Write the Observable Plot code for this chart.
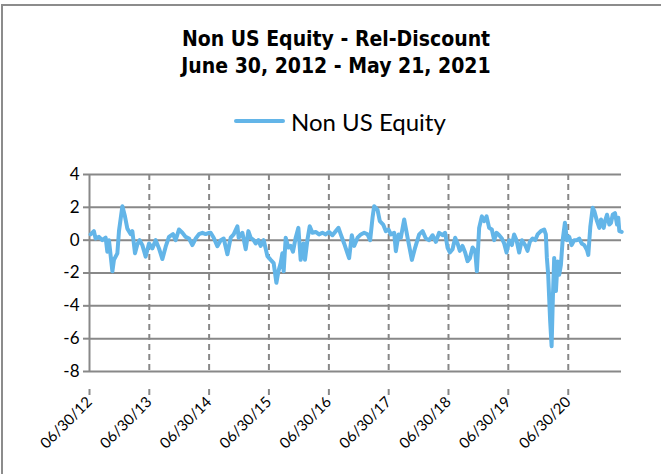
<!DOCTYPE html>
<html>
<head>
<meta charset="utf-8">
<script src="https://cdn.jsdelivr.net/npm/d3@7"></script>
<script src="https://cdn.jsdelivr.net/npm/@observablehq/plot@0.6"></script>
<style>
html, body { margin: 0; padding: 0; background: #fff; width: 661px; height: 474px; overflow: hidden; position: relative; }
#frame { position: absolute; left: 1px; top: 4px; width: 900px; height: 900px; border: 2px solid #8c8c8c; box-sizing: border-box; }
#title { position: absolute; left: 0; width: 672px; top: 26px; text-align: center;
  font-family: "DejaVu Sans Condensed", "DejaVu Sans", sans-serif; font-weight: bold; font-size: 21px; line-height: 27px; color: #000; }
#legend { position: absolute; left: 234px; top: 106px; height: 30px; display: flex; align-items: center;
  font-family: Lato, sans-serif; font-size: 24px; color: #000; }
#legend .swatch { width: 51px; height: 4px; border-radius: 2px; background: #63b5e8; margin-right: 6px; }
#chart { position: absolute; left: 0; top: 145px; }
</style>
</head>
<body>
<div id="frame"></div>
<div id="title">Non US Equity - Rel-Discount<br>June 30, 2012 - May 21, 2021</div>
<div id="legend"><div class="swatch"></div><span id="seriesName"></span></div>
<div id="chart"></div>
<script>
// Series name
const seriesName = "Non US Equity";

// Dates as decimal years
const years = [
  2012.513, 2012.568, 2012.596, 2012.652, 2012.708, 2012.764, 2012.792, 2012.819, 2012.876, 2012.902,
  2012.959, 2012.986, 2013.043, 2013.086, 2013.126, 2013.182, 2013.210, 2013.254, 2013.294, 2013.332,
  2013.377, 2013.432, 2013.488, 2013.544, 2013.600, 2013.655, 2013.712, 2013.767, 2013.822, 2013.889,
  2013.934, 2013.989, 2014.046, 2014.101, 2014.157, 2014.213, 2014.269, 2014.324, 2014.381, 2014.436,
  2014.491, 2014.519, 2014.570, 2014.631, 2014.687, 2014.737, 2014.799, 2014.854, 2014.904, 2014.966,
  2014.988, 2015.050, 2015.105, 2015.150, 2015.188, 2015.238, 2015.272, 2015.317, 2015.356, 2015.406,
  2015.468, 2015.523, 2015.573, 2015.618, 2015.652, 2015.690, 2015.718, 2015.740, 2015.774, 2015.819,
  2015.857, 2015.896, 2015.941, 2015.986, 2016.024, 2016.070, 2016.096, 2016.136, 2016.175, 2016.220,
  2016.275, 2016.330, 2016.387, 2016.442, 2016.498, 2016.554, 2016.610, 2016.655, 2016.693, 2016.749,
  2016.832, 2016.877, 2016.916, 2016.973, 2017.028, 2017.083, 2017.140, 2017.183, 2017.223, 2017.250,
  2017.307, 2017.345, 2017.401, 2017.446, 2017.491, 2017.529, 2017.585, 2017.613, 2017.658, 2017.697,
  2017.752, 2017.809, 2017.881, 2017.936, 2018.003, 2018.060, 2018.115, 2018.170, 2018.227, 2018.282,
  2018.337, 2018.394, 2018.437, 2018.477, 2018.516, 2018.561, 2018.605, 2018.645, 2018.683, 2018.728,
  2018.772, 2018.812, 2018.851, 2018.896, 2018.939, 2018.968, 2019.006, 2019.051, 2019.090, 2019.130,
  2019.173, 2019.218, 2019.257, 2019.297, 2019.341, 2019.386, 2019.424, 2019.464, 2019.508, 2019.553,
  2019.591, 2019.631, 2019.675, 2019.720, 2019.775, 2019.815, 2019.854, 2019.899, 2019.943, 2019.983,
  2020.038, 2020.093, 2020.121, 2020.138, 2020.160, 2020.193, 2020.217, 2020.238, 2020.260, 2020.289,
  2020.317, 2020.344, 2020.372, 2020.401, 2020.439, 2020.473, 2020.511, 2020.551, 2020.595, 2020.640,
  2020.678, 2020.718, 2020.762, 2020.807, 2020.829, 2020.862, 2020.902, 2020.929, 2020.974, 2021.013,
  2021.041, 2021.086, 2021.108, 2021.141, 2021.180, 2021.208, 2021.237, 2021.275, 2021.309, 2021.330,
  2021.347, 2021.387
];

// Rel-Discount values
const values = [
  0.35, 0.55, 0.10, 0.20, 0.00, 0.15, -0.70, 0.00, -1.90, -1.20,
  -0.80, 0.55, 2.07, 1.45, 0.70, 0.37, 0.55, -0.80, -0.25, 0.00,
  -0.30, -1.00, -0.20, -0.50, 0.00, -0.50, -1.15, -0.40, 0.20, 0.37,
  0.00, 0.65, 0.45, 0.20, 0.10, -0.30, 0.10, 0.37, 0.45, 0.37,
  0.45, 0.45, 0.15, -0.37, 0.00, 0.10, -0.86, 0.15, 0.35, 0.85,
  0.15, 0.45, -0.55, 0.55, 0.15, 0.00, -0.20, 0.00, -0.35, 0.00,
  -0.97, -1.20, -1.40, -2.60, -1.90, -1.40, -0.80, -1.90, 0.15, -0.45,
  -0.35, -0.70, 0.15, 0.75, -1.20, -0.20, -1.20, 0.00, 0.85, 0.45,
  0.50, 0.35, 0.45, 0.35, 0.50, 0.30, 0.55, 0.75, 0.35, -0.20,
  -1.10, 0.30, -0.35, 0.15, 0.35, 0.45, 0.35, 0.00, 1.36, 2.07,
  1.85, 1.16, 0.95, 0.55, 0.65, 0.35, 0.45, -0.67, 0.35, 0.15,
  1.26, 0.15, -1.20, -0.45, 0.35, 0.55, 0.10, 0.00, 0.30, -0.10,
  0.45, 0.30, 0.45, -0.45, -0.75, -0.55, 0.15, -0.20, -0.65, -0.35,
  -0.75, -1.28, -1.10, -0.45, -0.65, -1.90, 0.75, 1.45, 1.16, 1.45,
  0.75, 0.65, 0.00, 0.45, 0.30, 0.10, -0.20, -0.75, 0.00, -0.30,
  0.35, 0.00, -0.75, 0.00, -0.30, -0.65, -0.10, 0.10, 0.00, 0.35,
  0.55, 0.65, 0.35, -1.08, -2.10, -4.94, -6.46, -3.50, -1.08, -3.10,
  -1.30, -2.10, -1.50, 0.00, 1.06, 0.00, 0.20, -0.30, 0.00, 0.00,
  0.10, -0.20, -0.30, -0.60, -0.90, 0.80, 1.97, 1.77, 1.16, 0.75,
  1.26, 0.75, 1.16, 1.55, 0.95, 1.06, 1.55, 1.65, 0.95, 1.36,
  0.55, 0.50
];

// Axis ticks and domain
const xTickLabels = ["06/30/12", "06/30/13", "06/30/14", "06/30/15", "06/30/16", "06/30/17", "06/30/18", "06/30/19", "06/30/20"];
const xDomainLabels = ["06/30/12", "05/21/21"];
const yTicks = [-8, -6, -4, -2, 0, 2, 4];

const parse = d3.utcParse("%m/%d/%y");
const fmt = d3.utcFormat("%m/%d/%y");
function toDate(t) {
  const y = Math.floor(t);
  const s = Date.UTC(y, 0, 1), e = Date.UTC(y + 1, 0, 1);
  return new Date(s + (t - y) * (e - s));
}

const data = years.map((t, i) => ({date: toDate(t), value: values[i]}));
const xTicks = xTickLabels.map(parse);
const xDomain = xDomainLabels.map(parse);

document.getElementById("seriesName").textContent = seriesName;

const gridColor = "#888888";

const chart = Plot.plot({
  width: 661,
  height: 329,
  marginTop: 29,
  marginLeft: 89,
  marginRight: 40,
  marginBottom: 103,
  style: {fontFamily: "Lato, sans-serif", color: "#000", background: "transparent"},
  x: {type: "utc", domain: xDomain},
  y: {domain: [-8, 4]},
  marks: [
    Plot.ruleY(yTicks, {stroke: gridColor, strokeWidth: 2}),
    Plot.ruleX(xTicks.slice(1), {stroke: gridColor, strokeWidth: 2, strokeDasharray: "6,4"}),
    Plot.ruleX(xTicks.slice(0, 1), {stroke: gridColor, strokeWidth: 2}),
    Plot.axisY({ticks: yTicks, tickSize: 6, tickPadding: 4, stroke: gridColor, strokeWidth: 2, tickFormat: d => String(d), label: null, fontSize: 17}),
    Plot.axisX({ticks: xTicks, tickSize: 6, tickPadding: 4, tickRotate: -45, stroke: gridColor, strokeWidth: 2, tickFormat: fmt, label: null, fontSize: 15, dx: 0, dy: 18}),
    Plot.line(data, {x: "date", y: "value", stroke: "#63b5e8", strokeWidth: 4, strokeLinejoin: "round", strokeLinecap: "round"})
  ]
});
document.getElementById("chart").appendChild(chart);
</script>
</body>
</html>
